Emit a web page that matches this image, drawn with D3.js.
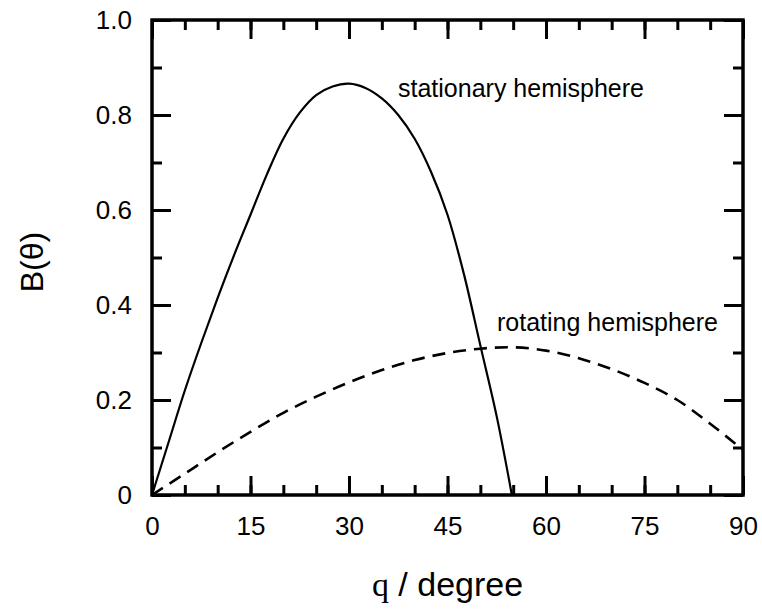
<!DOCTYPE html>
<html>
<head>
<meta charset="utf-8">
<script src="https://cdn.jsdelivr.net/npm/d3@7"></script>
<style>
  body { margin: 0; background: #fff; }
  text { font-family: "Liberation Sans", Arial, sans-serif; fill: #000; }
</style>
</head>
<body>
<div class="chart"></div>
<script>
//----------------------------------------------------------------------------------------------------------------------
// DATA
//----------------------------------------------------------------------------------------------------------------------

var stationaryTheta = [0, 2.5, 5, 7.5, 10, 12.5, 15, 17.5, 20, 22.5, 25, 27.5, 30, 32.5, 35, 37.5, 40, 42.5, 45, 47.5, 50, 52.5, 54.8];
var stationaryB     = [0, 0.11, 0.22, 0.32, 0.415, 0.505, 0.59, 0.675, 0.75, 0.805, 0.842, 0.86, 0.866, 0.857, 0.835, 0.80, 0.75, 0.68, 0.59, 0.465, 0.315, 0.165, 0];

var rotatingTheta = [0, 5, 10, 15, 20, 25, 30, 35, 40, 45, 50, 55, 60, 65, 70, 75, 80, 85, 90];
var rotatingB     = [0, 0.045, 0.09, 0.133, 0.173, 0.207, 0.237, 0.263, 0.284, 0.299, 0.308, 0.311, 0.304, 0.288, 0.265, 0.236, 0.2, 0.15, 0.095];

var xTicks = [0, 15, 30, 45, 60, 75, 90];
var xMinor = d3.range(0, 91, 5);
var yTicks = [0, 0.2, 0.4, 0.6, 0.8, 1.0];
var yMinor = d3.range(0, 1.01, 0.1);

var width = 762,
    height = 609;

var mLeft = 152, mRight = 743, mTop = 20, mBottom = 495;

var x = d3.scaleLinear().domain([0, 90]).range([mLeft, mRight]);
var y = d3.scaleLinear().domain([0, 1]).range([mBottom, mTop]);

var svg = d3.select("body").select(".chart").append("svg")
  .attr("width", width)
  .attr("height", height);

//----------------------------------------------------------------------------------------------------------------------
// AXES (ticks inside, mirrored on all four sides)
//----------------------------------------------------------------------------------------------------------------------

function fmtY(d) {
  return d === 0 ? "0" : d3.format(".1f")(d);
}

svg.append("g")
  .attr("transform", "translate(0," + mBottom + ")")
  .call(d3.axisBottom(x).tickValues(xMinor).tickSize(-10).tickFormat(""));
svg.append("g")
  .attr("transform", "translate(0," + mBottom + ")")
  .call(d3.axisBottom(x).tickValues(xTicks).tickSize(-19).tickPadding(22));

svg.append("g")
  .attr("transform", "translate(0," + mTop + ")")
  .call(d3.axisTop(x).tickValues(xMinor).tickSize(-10).tickFormat(""));
svg.append("g")
  .attr("transform", "translate(0," + mTop + ")")
  .call(d3.axisTop(x).tickValues(xTicks).tickSize(-19).tickFormat(""));

svg.append("g")
  .attr("transform", "translate(" + mLeft + ",0)")
  .call(d3.axisLeft(y).tickValues(yMinor).tickSize(-10).tickFormat(""));
svg.append("g")
  .attr("transform", "translate(" + mLeft + ",0)")
  .call(d3.axisLeft(y).tickValues(yTicks).tickSize(-19).tickPadding(20).tickFormat(fmtY));

svg.append("g")
  .attr("transform", "translate(" + mRight + ",0)")
  .call(d3.axisRight(y).tickValues(yMinor).tickSize(-10).tickFormat(""));
svg.append("g")
  .attr("transform", "translate(" + mRight + ",0)")
  .call(d3.axisRight(y).tickValues(yTicks).tickSize(-19).tickFormat(""));

svg.selectAll(".domain").remove();
svg.selectAll(".tick line").attr("stroke", "#000").attr("stroke-width", 3);
svg.selectAll(".tick text")
  .style("font-size", "26px")
  .style("font-family", "'Liberation Sans', Arial, sans-serif")
  .attr("fill", "#000");

svg.append("rect")
  .attr("x", mLeft)
  .attr("y", mTop)
  .attr("width", mRight - mLeft)
  .attr("height", mBottom - mTop)
  .attr("fill", "none")
  .attr("stroke", "#000")
  .attr("stroke-width", 3.5);

//----------------------------------------------------------------------------------------------------------------------
// CURVES
//----------------------------------------------------------------------------------------------------------------------

var line = d3.line()
  .x(function(d) { return x(d[0]); })
  .y(function(d) { return y(d[1]); })
  .curve(d3.curveCatmullRom);

var plot = svg.append("g");

plot.append("path")
  .datum(d3.zip(stationaryTheta, stationaryB))
  .attr("d", line)
  .attr("fill", "none")
  .attr("stroke", "#000")
  .attr("stroke-width", 2.2);

plot.append("path")
  .datum(d3.zip(rotatingTheta, rotatingB))
  .attr("d", line)
  .attr("fill", "none")
  .attr("stroke", "#000")
  .attr("stroke-width", 2.6)
  .attr("stroke-dasharray", "13,8");

//----------------------------------------------------------------------------------------------------------------------
// LABELS
//----------------------------------------------------------------------------------------------------------------------

svg.append("text")
  .attr("x", 398)
  .attr("y", 97)
  .style("font-size", "25px")
  .text("stationary hemisphere");

svg.append("text")
  .attr("x", 497)
  .attr("y", 331)
  .style("font-size", "25px")
  .text("rotating hemisphere");

var xTitle = svg.append("text")
  .attr("x", (mLeft + mRight) / 2)
  .attr("y", 596)
  .attr("text-anchor", "middle")
  .style("font-size", "34px");
xTitle.append("tspan")
  .style("font-family", "'Liberation Serif', 'Times New Roman', serif")
  .text("q");
xTitle.append("tspan").text(" / degree");

svg.append("text")
  .attr("transform", "translate(43," + 262 + ") rotate(-90)")
  .attr("text-anchor", "middle")
  .style("font-size", "32px")
  .text("B(θ)");
</script>
</body>
</html>
